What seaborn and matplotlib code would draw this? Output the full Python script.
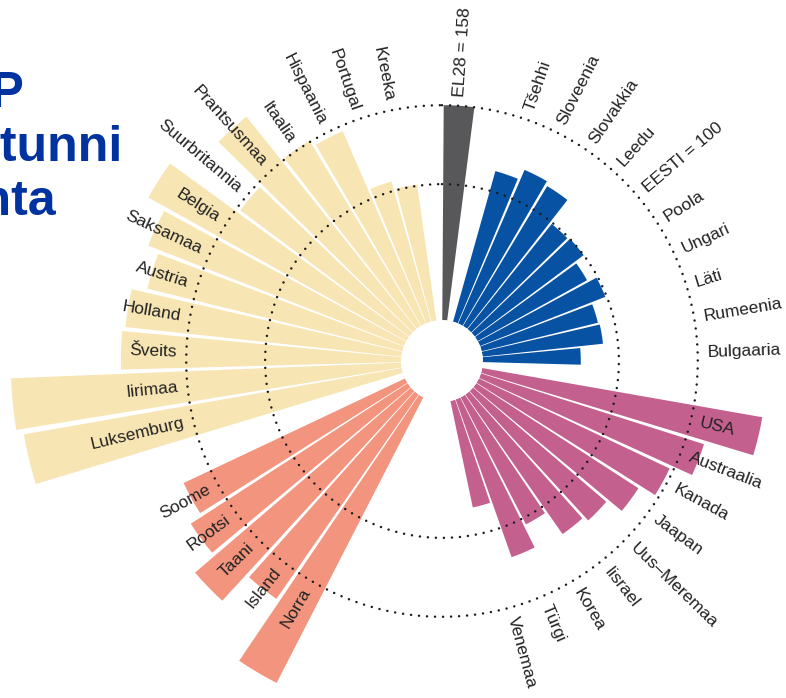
import numpy as np
import matplotlib
matplotlib.use("Agg")
import matplotlib.pyplot as plt
import seaborn as sns

# values relative to Estonia = 100
gray_names = ["EL28 = 158"]
gray_vals = [158]
blue_names = ["Tšehhi", "Sloveenia", "Slovakkia", "Leedu", "EESTI = 100",
              "Poola", "Ungari", "Läti", "Rumeenia", "Bulgaaria"]
blue_vals = [115, 123, 120, 99, 100, 92, 99, 88, 89, 72]
pink_names = ["USA", "Austraalia", "Kanada", "Jaapan", "Uus–Meremaa",
              "Iisrael", "Korea", "Türgi", "Venemaa"]
pink_vals = [209, 172, 155, 142, 129, 125, 105, 123, 80]
orange_names = ["Norra", "Island", "Taani", "Rootsi", "Soome"]
orange_vals = [236, 183, 209, 190, 180]
yellow_names = ["Luksemburg", "Iirimaa", "Šveits", "Holland", "Austria",
                "Saksamaa", "Belgia", "Suurbritannia", "Prantsusmaa",
                "Itaalia", "Hispaania", "Portugal", "Kreeka"]
yellow_vals = [282, 287, 206, 204, 193, 202, 217, 155, 200, 159, 154, 107, 101]

group_colors = ["#58585a", "#0852a3", "#c4608e", "#f2947e", "#f8e5b4"]
gaps_after = [1, 1, 5, 1, 1]
ref_levels = [100, 158]

sns.set_theme(style="white")
plt.rcParams["font.family"] = ["Liberation Sans", "DejaVu Sans"]

groups = [(gray_names, gray_vals), (blue_names, blue_vals), (pink_names, pink_vals),
          (orange_names, orange_vals), (yellow_names, yellow_vals)]

# slot positions around the circle
names, vals, cols, slots = [], [], [], []
pos = 0
for (g_names, g_vals), c, gap in zip(groups, group_colors, gaps_after):
    for n, v in zip(g_names, g_vals):
        names.append(n)
        vals.append(v)
        cols.append(c)
        slots.append(pos)
        pos += 1
    pos += gap
n_slots = pos
step = 2 * np.pi / n_slots
theta = (np.array(slots) + 0.5) * step

W, H = 786, 698
fig = plt.figure(figsize=(W / 100, H / 100), dpi=100)
cx, cy, R = 442, 361, 449
ax = fig.add_axes([(cx - R) / W, (H - cy - R) / H, 2 * R / W, 2 * R / H], projection="polar")
ax.set_theta_zero_location("N")
ax.set_theta_direction(-1)
ax.set_ylim(0, 300)
ax.set_rorigin(-30)

ax.bar(theta, vals, width=step * 0.9, color=cols, edgecolor="none", zorder=2)

circ = np.linspace(0, 2 * np.pi, 720)
for lev in ref_levels:
    ax.plot(circ, np.full_like(circ, lev), color="#1a1a1a", lw=1.8,
            linestyle=(0, (0.01, 3.2)), dash_capstyle="round", zorder=3)

label_r = 165
for t, n in zip(theta, names):
    deg = np.degrees(t)
    if deg < 180:
        rot, ha = 90 - deg, "left"
    else:
        rot, ha = 270 - deg, "right"
    ax.text(t, label_r, n, rotation=rot, rotation_mode="anchor", ha=ha, va="center",
            fontsize=12.5, color="#222222", zorder=4)

ax.axis("off")

fig.text(-78 / W, 1 - 215 / H, "SKP\ntöötunni\nkohta", ha="left", va="baseline",
         fontsize=36, fontweight="bold", color="#0033a0", linespacing=1.22,
         multialignment="left")

fig.savefig("out.png", dpi=100)
